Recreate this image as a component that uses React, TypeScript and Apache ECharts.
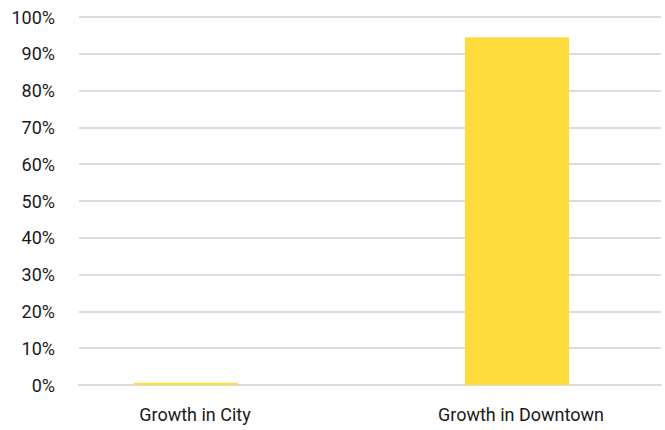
import React, { useEffect, useRef } from "react";
import * as echarts from "echarts";

const categories = ["Growth in City", "Growth in Downtown"];
const growthValues = [0.006, 0.945];
const yTicks = [0, 0.1, 0.2, 0.3, 0.4, 0.5, 0.6, 0.7, 0.8, 0.9, 1.0];

const FONT = "Roboto";
const FONT_SIZE = 18;

export default function App() {
  const ref = useRef<HTMLDivElement>(null);
  useEffect(() => {
    if (!ref.current) return;
    const chart = echarts.init(ref.current, null, { renderer: "svg" });
    const hiddenValueAxis = (gridIndex: number) => ({
      gridIndex,
      type: "value",
      min: yTicks[0],
      max: yTicks[yTicks.length - 1],
      interval: 0.1,
      show: false,
      splitLine: { show: false },
    });
    chart.setOption({
      animation: false,
      backgroundColor: "#ffffff",
      grid: [
        { left: 79, right: 4, top: 17, bottom: 45 },
        { left: 186, right: 148, top: 17, bottom: 45 },
        { left: 195, right: 144, top: 17, bottom: 45 },
      ],
      xAxis: [
        {
          gridIndex: 0,
          type: "category",
          data: ["", ""],
          axisLine: { show: true, lineStyle: { color: "#DCDCDC", width: 2 } },
          axisTick: { show: false },
          axisLabel: { show: false },
        },
        {
          gridIndex: 1,
          type: "category",
          boundaryGap: false,
          data: categories,
          show: false,
        },
        {
          gridIndex: 2,
          type: "category",
          boundaryGap: false,
          data: categories,
          axisLine: { show: false },
          axisTick: { show: false },
          axisLabel: {
            margin: 20,
            color: "#1a1a1a",
            fontFamily: FONT,
            fontSize: FONT_SIZE,
            showMinLabel: true,
            showMaxLabel: true,
            interval: 0,
          },
        },
      ],
      yAxis: [
        {
          gridIndex: 0,
          type: "value",
          min: yTicks[0],
          max: yTicks[yTicks.length - 1],
          interval: 0.1,
          axisLine: { show: false },
          axisTick: { show: false },
          splitLine: { show: true, lineStyle: { color: "#DCDCDC", width: 2 } },
          axisLabel: {
            margin: 24,
            color: "#1a1a1a",
            fontFamily: FONT,
            fontSize: FONT_SIZE,
            formatter: (v: number) => `${Math.round(v * 100)}%`,
          },
        },
        hiddenValueAxis(1),
        hiddenValueAxis(2),
      ],
      series: [
        {
          type: "bar",
          xAxisIndex: 1,
          yAxisIndex: 1,
          barWidth: 104,
          clip: false,
          data: growthValues,
          itemStyle: { color: "#FFDC3C" },
        },
      ],
    });
    return () => chart.dispose();
  }, []);
  return <div ref={ref} style={{ width: 665, height: 430, position: "absolute", left: 0, top: 0 }} />;
}
